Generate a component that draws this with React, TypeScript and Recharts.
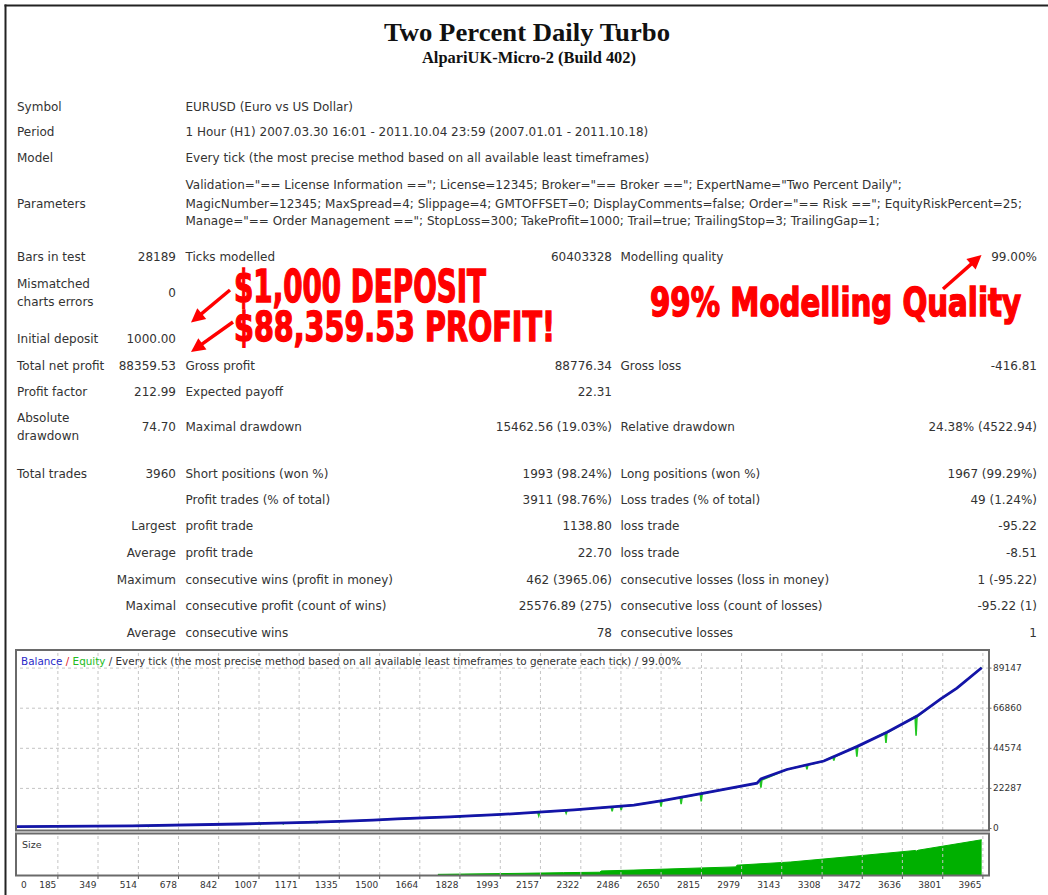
import React from 'react';
import { ComposedChart, Line, Area, XAxis, YAxis, ReferenceLine } from 'recharts';

// ---------- chart data ----------
const balanceTrades = [0, 488, 929, 1207, 1366, 1473, 1571, 1677, 1787, 1869, 1979, 2086, 2294, 2539, 2662, 2825, 3042, 3058, 3164, 3315, 3450, 3573, 3696, 3793, 3859, 3960];
const balanceValues = [1000, 1450, 2500, 3400, 4050, 4700, 5350, 5900, 6450, 7000, 7700, 8500, 10300, 13000, 15600, 19600, 25200, 27600, 32800, 37500, 45500, 53500, 62500, 72000, 78000, 89360];

const dipTrades = [554, 1012, 1106, 1244, 1828, 2150, 2262, 2450, 2487, 2650, 2732, 2814, 3058, 3246, 3356, 3450, 3569, 3692];
const dipTops = [1600, 2800, 3050, 3550, 6700, 9050, 10000, 12000, 12400, 15350, 17300, 19300, 27000, 35350, 39900, 45500, 53200, 62200];
const dipLows = [1100, 2300, 2550, 3050, 6200, 7200, 8500, 9600, 10200, 12200, 13600, 15000, 22700, 32950, 37700, 39900, 47600, 51600];

const sizeTrades = [1738, 2090, 2250, 2400, 2405, 2539, 2814, 2955, 2960, 3180, 3450, 3690, 3692, 3700, 3960];
const sizeLots = [0.55, 0.8, 0.95, 1.05, 1.35, 1.55, 2.05, 2.3, 2.7, 3.45, 4.85, 6.15, 5.95, 6.2, 8.65];

const xTicks = [0, 185, 349, 514, 678, 842, 1007, 1171, 1335, 1500, 1664, 1828, 1993, 2157, 2322, 2486, 2650, 2815, 2979, 3143, 3308, 3472, 3636, 3801, 3965];
const yTicks = [0, 22287, 44574, 66860, 89147];

// ---------- report texts ----------
const headRows = [
  { y: 106.7, label: 'Symbol', text: ['EURUSD (Euro vs US Dollar)'] },
  { y: 131.7, label: 'Period', text: ['1 Hour (H1) 2007.03.30 16:01 - 2011.10.04 23:59 (2007.01.01 - 2011.10.18)'] },
  { y: 157.7, label: 'Model', text: ['Every tick (the most precise method based on all available least timeframes)'] },
];
const paramLines = [
  'Validation="== License Information =="; License=12345; Broker="== Broker =="; ExpertName="Two Percent Daily";',
  'MagicNumber=12345; MaxSpread=4; Slippage=4; GMTOFFSET=0; DisplayComments=false; Order="== Risk =="; EquityRiskPercent=25;',
  'Manage="== Order Management =="; StopLoss=300; TakeProfit=1000; Trail=true; TrailingStop=3; TrailingGap=1;',
];
const paramY = [184.3, 203.3, 221];

type StatRow = { y: number; a?: string[]; ar?: string; av?: string; b?: string; bv?: string; c?: string; cv?: string };
const statRows: StatRow[] = [
  { y: 256.7, a: ['Bars in test'], av: '28189', b: 'Ticks modelled', bv: '60403328', c: 'Modelling quality', cv: '99.00%' },
  { y: 292.5, a: ['Mismatched', 'charts errors'], av: '0' },
  { y: 339, a: ['Initial deposit'], av: '1000.00' },
  { y: 365.7, a: ['Total net profit'], av: '88359.53', b: 'Gross profit', bv: '88776.34', c: 'Gross loss', cv: '-416.81' },
  { y: 391.7, a: ['Profit factor'], av: '212.99', b: 'Expected payoff', bv: '22.31' },
  { y: 426.5, a: ['Absolute', 'drawdown'], av: '74.70', b: 'Maximal drawdown', bv: '15462.56 (19.03%)', c: 'Relative drawdown', cv: '24.38% (4522.94)' },
  { y: 473.3, a: ['Total trades'], av: '3960', b: 'Short positions (won %)', bv: '1993 (98.24%)', c: 'Long positions (won %)', cv: '1967 (99.29%)' },
  { y: 500, b: 'Profit trades (% of total)', bv: '3911 (98.76%)', c: 'Loss trades (% of total)', cv: '49 (1.24%)' },
  { y: 526, ar: 'Largest', b: 'profit trade', bv: '1138.80', c: 'loss trade', cv: '-95.22' },
  { y: 552.7, ar: 'Average', b: 'profit trade', bv: '22.70', c: 'loss trade', cv: '-8.51' },
  { y: 579.3, ar: 'Maximum', b: 'consecutive wins (profit in money)', bv: '462 (3965.06)', c: 'consecutive losses (loss in money)', cv: '1 (-95.22)' },
  { y: 606, ar: 'Maximal', b: 'consecutive profit (count of wins)', bv: '25576.89 (275)', c: 'consecutive loss (count of losses)', cv: '-95.22 (1)' },
  { y: 632.7, ar: 'Average', b: 'consecutive wins', bv: '78', c: 'consecutive losses', cv: '1' },
];

const FONT = "'DejaVu Sans', Verdana, sans-serif";
const CHART_FONT = "'DejaVu Sans', Verdana, sans-serif";
const RED_FONT = "Impact, 'Liberation Sans Narrow', 'DejaVu Sans Condensed', 'Liberation Sans', sans-serif";
const TXT = '#333';

// ---------- built tables for the library ----------
const balanceData = balanceTrades.map((t, i) => ({ t, v: balanceValues[i] }));
const equityData = (() => {
  const pts = balanceTrades.map((t, i) => ({ t, v: balanceValues[i] }));
  dipTrades.forEach((t, i) => {
    pts.push({ t: t - 4, v: dipTops[i] });
    pts.push({ t: t + 0.01, v: dipLows[i] });
    pts.push({ t: t + 4, v: dipTops[i] });
  });
  return pts.filter((p) => !dipTrades.includes(p.t)).sort((a, b) => a.t - b.t);
})();
const sizeData = sizeTrades.map((t, i) => ({ t, s: sizeLots[i] }));

const X_DOMAIN: [number, number] = [18, 3990];

const XTick = (props: any) => {
  const { x, y, payload } = props;
  const v = payload.value;
  const first = v === 0;
  return (
    <g>
      {!first && <line x1={x} x2={x} y1={y} y2={y + 4} stroke="#555" strokeWidth={1} />}
      <text x={first ? x + 8.5 : x - 1.5} y={y + 12.5} textAnchor={first ? 'start' : 'end'} fontSize={9} fontFamily={CHART_FONT} fill={TXT}>
        {v}
      </text>
    </g>
  );
};

const YTick = (props: any) => {
  const { x, y, payload } = props;
  return (
    <g>
      <line x1={x + 1} x2={x + 2.5} y1={y} y2={y} stroke="#666" strokeWidth={1} />
      <text x={x + 4} y={y + 2.5} textAnchor="start" fontSize={9} fontFamily={CHART_FONT} fill={TXT}>
        {payload.value}
      </text>
    </g>
  );
};

function arrowHead(x1: number, y1: number, x2: number, y2: number, len: number, half: number) {
  const dx = x2 - x1;
  const dy = y2 - y1;
  const d = Math.hypot(dx, dy);
  const ux = dx / d;
  const uy = dy / d;
  const bx = x2 - ux * len;
  const by = y2 - uy * len;
  return `${x2},${y2} ${bx - uy * half},${by + ux * half} ${bx + uy * half},${by - ux * half}`;
}

const arrows = [
  { x1: 230, y1: 290, x2: 191, y2: 322.5 },
  { x1: 233, y1: 322, x2: 191, y2: 352 },
  { x1: 943, y1: 289, x2: 981.5, y2: 255 },
];

export default function App() {
  const gridStyle = { stroke: '#c4c4c4', strokeDasharray: '3 3', strokeWidth: 1 };
  return (
    <div style={{ position: 'absolute', left: 0, top: 0, width: 1048, height: 895, background: '#fff', overflow: 'hidden' }}>
      {/* Balance / Equity chart */}
      <div style={{ position: 'absolute', left: 17, top: 651 }}>
        <ComposedChart width={1031} height={187} margin={{ top: 0, right: 0, bottom: 8, left: 0 }}>
          <XAxis dataKey="t" type="number" domain={X_DOMAIN} allowDataOverflow hide ticks={xTicks} />
          <YAxis
            yAxisId="y"
            orientation="right"
            width={59}
            type="number"
            domain={[-830, 98650]}
            allowDataOverflow
            ticks={yTicks}
            interval={0}
            axisLine={false}
            tickLine={false}
            tickSize={0}
            tickMargin={0}
            tick={<YTick />}
          />
          {xTicks.filter((v) => v > 0).map((v) => (
            <ReferenceLine key={'vx' + v} x={v} yAxisId="y" {...gridStyle} />
          ))}
          {yTicks.filter((v) => v > 0).map((v) => (
            <ReferenceLine key={'hy' + v} y={v} yAxisId="y" {...gridStyle} />
          ))}
          <Line yAxisId="y" data={equityData} dataKey="v" type="linear" stroke="#22c622" strokeWidth={1.6} dot={false} isAnimationActive={false} />
          <Line yAxisId="y" data={balanceData} dataKey="v" type="linear" stroke="#1414a8" strokeWidth={2.8} dot={false} isAnimationActive={false} />
        </ComposedChart>
      </div>

      {/* Size panel */}
      <div style={{ position: 'absolute', left: 17, top: 834 }}>
        <ComposedChart width={1031} height={61} margin={{ top: 0, right: 59, bottom: 0, left: 0 }}>
          <XAxis
            dataKey="t"
            type="number"
            domain={X_DOMAIN}
            allowDataOverflow
            ticks={xTicks}
            interval={0}
            height={20}
            axisLine={false}
            tickLine={false}
            tickSize={0}
            tickMargin={0}
            tick={<XTick />}
          />
          <YAxis yAxisId="s" hide type="number" domain={[0.4, 10]} allowDataOverflow />
          {xTicks.filter((v) => v > 0).map((v) => (
            <ReferenceLine key={'sx' + v} x={v} yAxisId="s" {...gridStyle} />
          ))}
          <Area yAxisId="s" data={sizeData} dataKey="s" type="linear" stroke="#00b000" strokeWidth={1} fill="#00b000" fillOpacity={1} isAnimationActive={false} />
        </ComposedChart>
      </div>

      {/* report texts, frames and annotations */}
      <svg width={1048} height={895} style={{ position: 'absolute', left: 0, top: 0, pointerEvents: 'none' }}>
        <line x1={4.5} y1={5.5} x2={1048} y2={5.5} stroke="#222" strokeWidth={2} />
        <line x1={5.5} y1={4.5} x2={5.5} y2={895} stroke="#222" strokeWidth={2} />

        <text x={527} y={41} textAnchor="middle" fontFamily="'Liberation Serif', 'Times New Roman', serif" fontWeight="bold" fontSize={26} fill="#111" textLength={286} lengthAdjust="spacingAndGlyphs">
          Two Percent Daily Turbo
        </text>
        <text x={529} y={63} textAnchor="middle" fontFamily="'Liberation Serif', 'Times New Roman', serif" fontWeight="bold" fontSize={16} fill="#111" textLength={214} lengthAdjust="spacingAndGlyphs">
          AlpariUK-Micro-2 (Build 402)
        </text>

        <g fontFamily={FONT} fontSize={12} fill={TXT}>
          {headRows.map((r) => (
            <g key={r.label}>
              <text x={17} y={r.y + 4.3}>{r.label}</text>
              <text x={185.5} y={r.y + 4.3}>{r.text[0]}</text>
            </g>
          ))}
          <text x={17} y={paramY[1] + 4.3}>Parameters</text>
          {paramLines.map((l, i) => (
            <text key={i} x={185.5} y={paramY[i] + 4.3}>{l}</text>
          ))}
          {statRows.map((r, i) => (
            <g key={'s' + i}>
              {r.a && r.a.length === 1 && <text x={17} y={r.y + 4.3}>{r.a[0]}</text>}
              {r.a && r.a.length === 2 && (
                <>
                  <text x={17} y={r.y - 8.8 + 4.3}>{r.a[0]}</text>
                  <text x={17} y={r.y + 8.8 + 4.3}>{r.a[1]}</text>
                </>
              )}
              {r.ar && <text x={176} y={r.y + 4.3} textAnchor="end">{r.ar}</text>}
              {r.av && <text x={176} y={r.y + 4.3} textAnchor="end">{r.av}</text>}
              {r.b && <text x={185.5} y={r.y + 4.3}>{r.b}</text>}
              {r.bv && <text x={612} y={r.y + 4.3} textAnchor="end">{r.bv}</text>}
              {r.c && <text x={620.5} y={r.y + 4.3}>{r.c}</text>}
              {r.cv && <text x={1037} y={r.y + 4.3} textAnchor="end">{r.cv}</text>}
            </g>
          ))}
        </g>

        <g fill="#f00" stroke="#f00" strokeWidth={1.4} fontFamily={RED_FONT} fontWeight="bold">
          <text x={234} y={302} fontSize={45} textLength={252} lengthAdjust="spacingAndGlyphs">$1,000 DEPOSIT</text>
          <text x={234} y={341} fontSize={41} textLength={321} lengthAdjust="spacingAndGlyphs">$88,359.53 PROFIT!</text>
          <text x={650} y={316} fontSize={39} textLength={371} lengthAdjust="spacingAndGlyphs">99% Modelling Quality</text>
        </g>
        {arrows.map((a, i) => {
          const d = Math.hypot(a.x2 - a.x1, a.y2 - a.y1);
          const ex = a.x2 - ((a.x2 - a.x1) / d) * 10;
          const ey = a.y2 - ((a.y2 - a.y1) / d) * 10;
          return (
            <g key={'ar' + i}>
              <line x1={a.x1} y1={a.y1} x2={ex} y2={ey} stroke="#f00" strokeWidth={3.4} />
              <polygon points={arrowHead(a.x1, a.y1, a.x2, a.y2, 14, 7)} fill="#f00" />
            </g>
          );
        })}

        <text x={21} y={664.5} fontFamily={CHART_FONT} fontSize={10.4} fill={TXT}>
          <tspan fill="#2a2ac8">Balance</tspan>
          <tspan fill="#e02020"> / </tspan>
          <tspan fill="#22bb22">Equity</tspan>
          <tspan> / Every tick (the most precise method based on all available least timeframes to generate each tick) / 99.00%</tspan>
        </text>
        <text x={22} y={848} fontFamily={CHART_FONT} fontSize={9.5} fill={TXT}>Size</text>

        <rect x={16} y={650} width={973} height={180.5} fill="none" stroke="#6a6a6a" strokeWidth={2} />
        <rect x={16} y={833.5} width={973} height={42} fill="none" stroke="#6a6a6a" strokeWidth={2} />
      </svg>
    </div>
  );
}
